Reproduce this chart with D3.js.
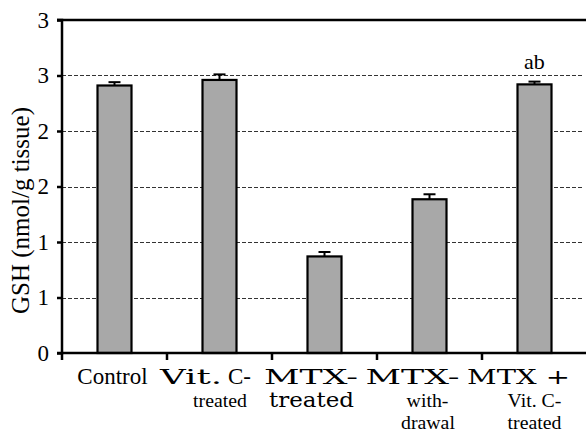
<!DOCTYPE html>
<html><head><meta charset="utf-8">
<script src="https://cdn.jsdelivr.net/npm/d3@7"></script>
<style>body{margin:0;background:#fff}svg{display:block}</style>
</head><body>
<script>
const categories = ["Control","Vit. C-treated","MTX-treated","MTX-withdrawal","MTX + Vit. C-treated"];
const values = [2.41, 2.46, 0.87, 1.385, 2.42];
const errors = [0.03, 0.05, 0.04, 0.045, 0.025];
const annotations = ["", "", "", "", "ab"];
const tickValues = [0, 0.5, 1, 1.5, 2, 2.5, 3];
const tickLabels = ["0","1","1","2","2","3","3"];
// category label lines, each a list of [text, style] segments ("t" = plain serif, "w" = wide serif)
const labelLines = [
  [[["Control","t"]]],
  [[["Vit.","w"],["C-","t"]], [["treated","t"]]],
  [[["MTX-","w"]], [["treated","w"]]],
  [[["MTX-","w"]], [["with-","t"]], [["drawal","t"]]],
  [[["MTX +","w"]], [["Vit. C-","t"]], [["treated","t"]]]
];

// layout (positions / sizes)
const W = 586, H = 433;
const m = {left: 62, top: 20, bottom: 80};
const bandW = 105;
const labelDx = [[-2], [-14, 0.5], [-13.5, -13], [-17, -2, -1.5], [-16, 0, 0]];
const wideWidths = {"Vit.": 62, "MTX-": 94, "treated": 85, "MTX +": 103};
const lineY = [384, 406.5, 428.5];

const svg = d3.select("body").append("svg").attr("width", W).attr("height", H);
const x = d3.scaleBand().domain(categories).range([m.left, m.left + bandW * categories.length]);
const y = d3.scaleLinear().domain([0, 3]).range([H - m.bottom, m.top]);

const serif = "Liberation Serif, Times New Roman, serif";
const wide = "DejaVu Serif, serif";

// gridlines
svg.append("g").selectAll("line").data(tickValues.filter(v => v > 0 && v < 3)).join("line")
  .attr("x1", m.left).attr("x2", W - 3)
  .attr("y1", d => Math.round(y(d)) + 0.5).attr("y2", d => Math.round(y(d)) + 0.5)
  .attr("stroke", "#333").attr("stroke-width", 1).attr("stroke-dasharray", "4,2");

// top border
svg.append("line").attr("x1", m.left - 5).attr("x2", W).attr("y1", y(3)).attr("y2", y(3))
  .attr("stroke", "#000").attr("stroke-width", 2.5);

// bars
const bw = 34;
svg.append("g").selectAll("rect").data(values).join("rect")
  .attr("x", (d, i) => x(categories[i]) + x.bandwidth() / 2 - bw / 2)
  .attr("y", d => y(d)).attr("width", bw).attr("height", d => y(0) - y(d))
  .attr("fill", "#a8a8a8").attr("stroke", "#000").attr("stroke-width", 2.2);

// error bars
const eb = svg.append("g").attr("stroke", "#000").attr("stroke-width", 2);
values.forEach((v, i) => {
  const cx = x(categories[i]) + x.bandwidth() / 2;
  eb.append("line").attr("x1", cx).attr("x2", cx).attr("y1", y(v)).attr("y2", y(v + errors[i]));
  eb.append("line").attr("x1", cx - 6).attr("x2", cx + 6).attr("y1", y(v + errors[i])).attr("y2", y(v + errors[i]));
});

// annotations
svg.append("g").selectAll("text").data(annotations).join("text")
  .attr("x", (d, i) => x(categories[i]) + x.bandwidth() / 2)
  .attr("y", (d, i) => y(values[i] + errors[i]) - 13)
  .attr("text-anchor", "middle").attr("font-family", serif).attr("font-size", 22)
  .attr("fill", "#000").text(d => d);

// y axis
const yAxis = d3.axisLeft(y).tickValues(tickValues).tickFormat((d, i) => tickLabels[i]).tickSize(5).tickPadding(8);
const gy = svg.append("g").attr("transform", `translate(${m.left},0)`).call(yAxis);
gy.select(".domain").attr("stroke-width", 2.5).attr("d", `M-5,${y(3)}H0V${y(0)}H-5`);
gy.selectAll(".tick line").attr("stroke-width", 2.5);
gy.selectAll(".tick text").attr("font-family", serif).attr("font-size", 23).attr("fill", "#000");

// x axis
const xAxis = d3.axisBottom(x).tickSize(0).tickFormat("");
const gx = svg.append("g").attr("transform", `translate(0,${y(0)})`).call(xAxis);
gx.select(".domain").attr("stroke-width", 2.5).attr("d", `M${m.left},0H${W}`);
gx.selectAll(".sep").data(categories).join("line").attr("class", "sep")
  .attr("x1", d => x(d)).attr("x2", d => x(d)).attr("y1", 0).attr("y2", 7)
  .attr("stroke", "#000").attr("stroke-width", 2.5);

// category labels
const gap = 6;
labelLines.forEach((lines, i) => {
  const cx = x(categories[i]) + x.bandwidth() / 2;
  lines.forEach((segs, j) => {
    const els = segs.map(s => {
      const t = svg.append("text").attr("y", lineY[j])
        .attr("font-family", s[1] === "w" ? wide : serif)
        .attr("font-size", s[1] === "w" ? 21 : (j === 0 ? 23 : 19.8))
        .attr("fill", "#000").text(s[0]);
      if (s[1] === "w" && wideWidths[s[0]]) {
        t.attr("textLength", wideWidths[s[0]]).attr("lengthAdjust", "spacingAndGlyphs");
      }
      return t;
    });
    const widths = els.map((t, k) => (segs[k][1] === "w" && wideWidths[segs[k][0]]) ? wideWidths[segs[k][0]] : t.node().getComputedTextLength());
    const total = d3.sum(widths) + gap * (els.length - 1);
    let xx = cx + labelDx[i][j] - total / 2;
    els.forEach((t, k) => { t.attr("x", xx); xx += widths[k] + gap; });
  });
});

// y label
svg.append("text").attr("transform", `translate(29,${(y(0) + y(3)) / 2 + 24}) rotate(-90)`)
  .attr("text-anchor", "middle").attr("font-family", serif).attr("font-size", 25)
  .attr("fill", "#000").text("GSH (nmol/g tissue)");
</script>
</body></html>
